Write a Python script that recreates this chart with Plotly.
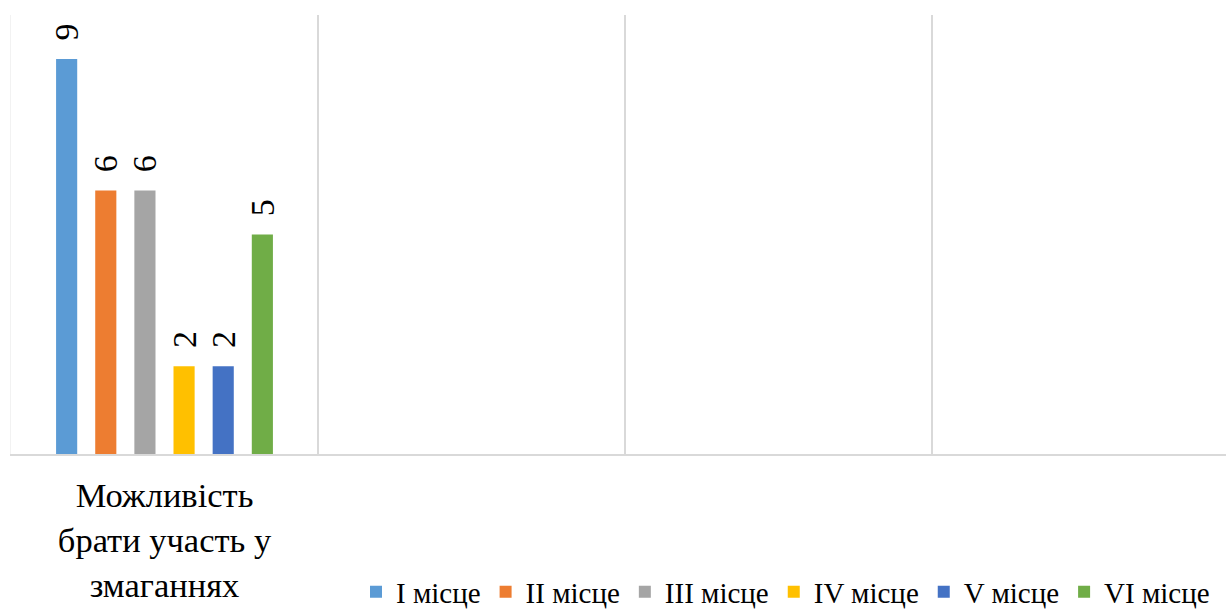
import plotly.graph_objects as go

# Survey answers for one question, split by the place taken
category_labels = ["Можливість<br>брати участь у<br>змаганнях"]
series_names = ["I місце", "II місце", "III місце", "IV місце", "V місце", "VI місце"]
series_values = [[9], [6], [6], [2], [2], [5]]
series_colors = ["#5B9BD5", "#ED7D31", "#A5A5A5", "#FFC000", "#4472C4", "#70AD47"]

category_pos = list(range(len(category_labels)))
FONT = "Times New Roman"


def serif(size):
    return dict(family=FONT, size=size, color="#000000", weight="normal",
                style="normal", variant="normal", shadow="none")


fig = go.Figure()
for name, vals, color in zip(series_names, series_values, series_colors):
    fig.add_trace(go.Bar(
        x=category_pos,
        y=vals,
        name=name,
        marker=dict(color=color, line=dict(width=0)),
        texttemplate="\u00a0\u2009%{y}",
        textposition="outside",
        textangle=-90,
        constraintext="none",
        textfont=serif(34),
        cliponaxis=False,
    ))

fig.update_layout(
    width=1226,
    height=611,
    margin=dict(l=11, r=0, t=15, b=157, autoexpand=False),
    paper_bgcolor="white",
    plot_bgcolor="white",
    barmode="group",
    bargap=0.235,
    bargroupgap=0.46,
    showlegend=True,
    legend=dict(
        orientation="h",
        x=(356 - 11) / 1215,
        xanchor="left",
        y=-0.314,
        yanchor="middle",
        font=serif(29),
        itemwidth=30,
        traceorder="normal",
    ),
)

fig.update_xaxes(
    range=[-0.5, -0.5 + 1215 / 307],
    tickvals=category_pos,
    ticktext=category_labels,
    tickfont=serif(34.5),
    ticklabelstandoff=10,
    ticks="",
    automargin=False,
    showgrid=False,
    zeroline=False,
    showline=True,
    linecolor="#D9D9D9",
    linewidth=2,
    minor=dict(
        tickvals=[0.5, 1.5, 2.5],
        showgrid=True,
        gridcolor="#D9D9D9",
        gridwidth=1.5,
        ticks="",
    ),
)
fig.update_yaxes(
    range=[0, 10],
    showticklabels=False,
    ticks="",
    showgrid=False,
    zeroline=False,
    showline=True,
    linecolor="#F2F2F2",
    linewidth=1,
)

fig.write_html("out.html")
